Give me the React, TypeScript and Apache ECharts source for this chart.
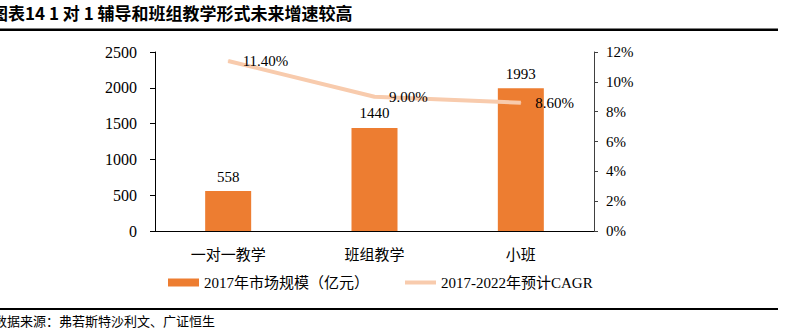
import React, { useEffect, useRef } from "react";
import * as echarts from "echarts";

const categories = ["一对一教学", "班组教学", "小班"];
const marketSize = [558, 1440, 1993];
const cagr = [11.4, 9.0, 8.6];
const barName = "2017年市场规模（亿元）";
const lineName = "2017-2022年预计CAGR";
const titleText = "图表14 1 对 1 辅导和班组教学形式未来增速较高";
const sourceText = "数据来源：弗若斯特沙利文、广证恒生";

const SERIF = "'Liberation Serif', 'Times New Roman', 'Noto Sans CJK SC', serif";
const CJK = "'Noto Sans CJK SC', sans-serif";

export default function App() {
  const ref = useRef<HTMLDivElement>(null);
  useEffect(() => {
    document.body.style.margin = "0";
    const chart = echarts.init(ref.current!, null, { renderer: "svg" });
    chart.setOption({
      animation: false,
      backgroundColor: "#ffffff",
      grid: { left: 155, right: 208, top: 52, bottom: 98, containLabel: false },
      legend: {
        left: 163,
        top: 270,
        itemGap: 36,
        itemWidth: 31,
        itemHeight: 8,
        textStyle: { fontFamily: SERIF, fontSize: 15, color: "#000" },
        data: [
          { name: barName, icon: "rect" },
          { name: lineName, icon: "path://M0,0 L31,0 L31,4 L0,4 Z" },
        ],
      },
      xAxis: {
        type: "category",
        data: categories,
        axisLine: { lineStyle: { color: "#000", width: 1 } },
        axisTick: { show: false },
        axisLabel: { fontFamily: CJK, fontSize: 15, color: "#000", margin: 15 },
      },
      yAxis: [
        {
          type: "value",
          min: 0,
          max: 2500,
          interval: 500,
          axisLine: { show: true, lineStyle: { color: "#000" } },
          axisTick: { show: true, length: 5, lineStyle: { color: "#000" } },
          splitLine: { show: false },
          axisLabel: {
            fontFamily: SERIF,
            fontSize: 16,
            color: "#000",
            margin: 18,
            formatter: (v: number) => String(v),
          },
        },
        {
          type: "value",
          min: 0,
          max: 12,
          interval: 2,
          axisLine: { show: true, lineStyle: { color: "#404040" } },
          axisTick: { show: true, length: 4, lineStyle: { color: "#404040" } },
          splitLine: { show: false },
          axisLabel: {
            fontFamily: SERIF,
            fontSize: 15,
            color: "#000",
            margin: 12,
            formatter: (v: number) => v + "%",
          },
        },
      ],
      series: [
        {
          name: barName,
          type: "bar",
          data: marketSize,
          barWidth: 46,
          itemStyle: { color: "#ED7D31" },
          label: {
            show: true,
            position: "top",
            distance: 7,
            fontFamily: SERIF,
            fontSize: 15,
            color: "#000",
          },
        },
        {
          name: lineName,
          type: "line",
          yAxisIndex: 1,
          data: cagr,
          symbol: "circle",
          symbolSize: 1,
          itemStyle: { color: "#F8CBAD" },
          lineStyle: { color: "#F8CBAD", width: 4 },
          label: {
            show: true,
            position: "right",
            distance: 14,
            fontFamily: SERIF,
            fontSize: 15,
            color: "#000",
            formatter: (p: any) => p.value.toFixed(2) + "%",
          },
        },
      ],
      graphic: [
        {
          type: "text",
          left: -9,
          top: 4,
          style: {
            text: titleText,
            font: "bold 17px " + CJK,
            fill: "#000",
          },
        },
        {
          type: "rect",
          shape: { x: 0, y: 28.5, width: 778, height: 2.5 },
          style: { fill: "#000" },
        },
        {
          type: "rect",
          shape: { x: 0, y: 308, width: 778, height: 2 },
          style: { fill: "#000" },
        },
        {
          type: "text",
          left: -6,
          top: 314,
          style: {
            text: sourceText,
            font: "13px " + CJK,
            fill: "#000",
          },
        },
      ],
    });
    return () => chart.dispose();
  }, []);
  return <div ref={ref} style={{ width: 802, height: 329 }} />;
}
